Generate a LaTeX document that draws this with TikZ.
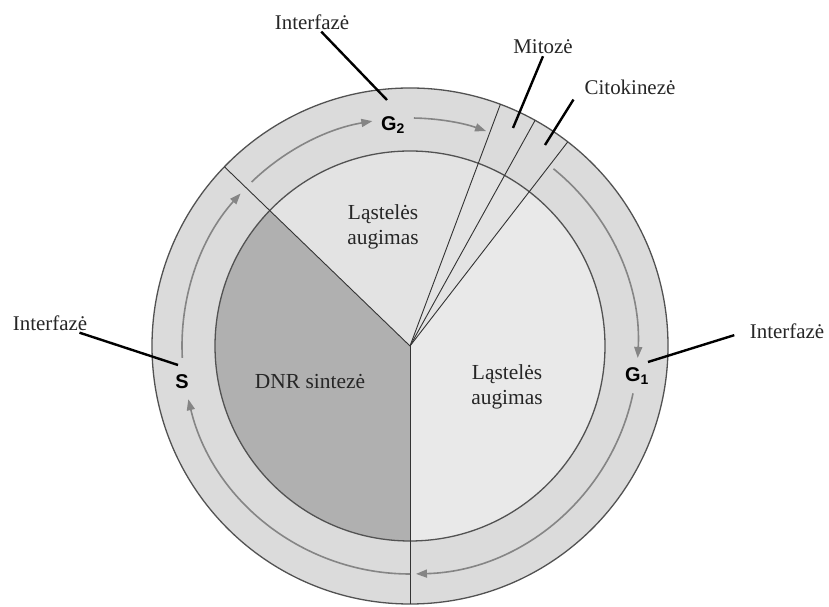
\documentclass[tikz,border=0pt]{standalone}
\usepackage{fontspec}
\setmainfont{Liberation Serif}
\setsansfont{Liberation Sans}
\usetikzlibrary{arrows.meta}
\definecolor{ringc}{gray}{0.86}
\definecolor{lightc}{gray}{0.89}
\definecolor{lighterc}{gray}{0.915}
\definecolor{darkc}{gray}{0.69}
\definecolor{edgec}{gray}{0.32}
\definecolor{arrc}{gray}{0.52}
\begin{document}
\begin{tikzpicture}[x=1bp,y=1bp,
  ringline/.style={draw=edgec,line width=1.3bp},
  radial/.style={draw=black!80,line width=0.9bp},
  track/.style={draw=arrc,line width=1.6bp,-{Triangle[length=11bp,width=8bp]}},
  leader/.style={draw=black,line width=2.4bp},
  lab/.style={font=\fontsize{21}{25}\selectfont,inner sep=2bp,text=black!85},
  inlab/.style={font=\fontsize{21.5}{25}\selectfont,align=center,inner sep=0pt,text=black!85},
  phase/.style={font=\sffamily\bfseries\fontsize{20}{24}\selectfont,inner sep=1bp}]
\useasboundingbox (0,0) rectangle (829,607);
\fill[white] (0,0) rectangle (829,607);
\begin{scope}[shift={(410,261)}]
  \fill[ringc] (0,0) circle[radius=258];
  \fill[darkc] (0,0) -- (136:195) arc[start angle=136,end angle=270,radius=195] -- cycle;
  \fill[lightc] (0,0) -- (52.3:195) arc[start angle=52.3,end angle=136,radius=195] -- cycle;
  \fill[lighterc] (0,0) -- (-90:195) arc[start angle=-90,end angle=52.3,radius=195] -- cycle;
  \draw[ringline] (0,0) circle[radius=258];
  \draw[ringline] (0,0) circle[radius=195];
  \foreach \a in {136,69.5,61,52.3,-90} \draw[radial] (0,0) -- (\a:258);
  % cycle arrows
  \draw[track] (51:228) arc[start angle=51,end angle=-3,radius=228];
  \draw[track] (-12:228) arc[start angle=-12,end angle=-88.5,radius=228];
  \draw[track] (270:228) arc[start angle=270,end angle=193.5,radius=228];
  \draw[track] (183:228) arc[start angle=183,end angle=138,radius=228];
  \draw[track] (134:228) arc[start angle=134,end angle=99.5,radius=228];
  \draw[track] (89:228) arc[start angle=89,end angle=70.5,radius=228];
\end{scope}
% phase labels
\node[phase] (g2) at (393,482) {G\textsubscript{2}};
\node[phase] (s) at (182,225) {S};
\node[phase] (g1) at (637,231) {G\textsubscript{1}};
% inner labels
\node[inlab] (grow1) at (383,380) {Ląstelės\\augimas};
\node[inlab] (grow2) at (507,220) {Ląstelės\\augimas};
\node[inlab] (dnr) at (310,225) {DNR sintezė};
% outer labels
\node[lab] (itop) at (312,585) {Interfazė};
\node[lab] (ileft) at (50,284) {Interfazė};
\node[lab] (iright) at (787,276) {Interfazė};
\node[lab] (mit) at (543,560) {Mitozė};
\node[lab] (cit) at (630,520) {Citokinezė};
% leader ends
\coordinate (g2p) at (387,507);
\coordinate (sp) at (178,242);
\coordinate (g1p) at (648,245);
\coordinate (mitp) at (513,479);
\coordinate (citp) at (545,462);
\draw[leader] (itop) -- (g2p);
\draw[leader] (ileft) -- (sp);
\draw[leader,shorten <=14bp] (iright.west) -- (g1p);
\draw[leader] (mit.south) -- (mitp);
\draw[leader] ([xshift=-9bp,yshift=-3bp]cit.south west) -- (citp);
\end{tikzpicture}
\end{document}
